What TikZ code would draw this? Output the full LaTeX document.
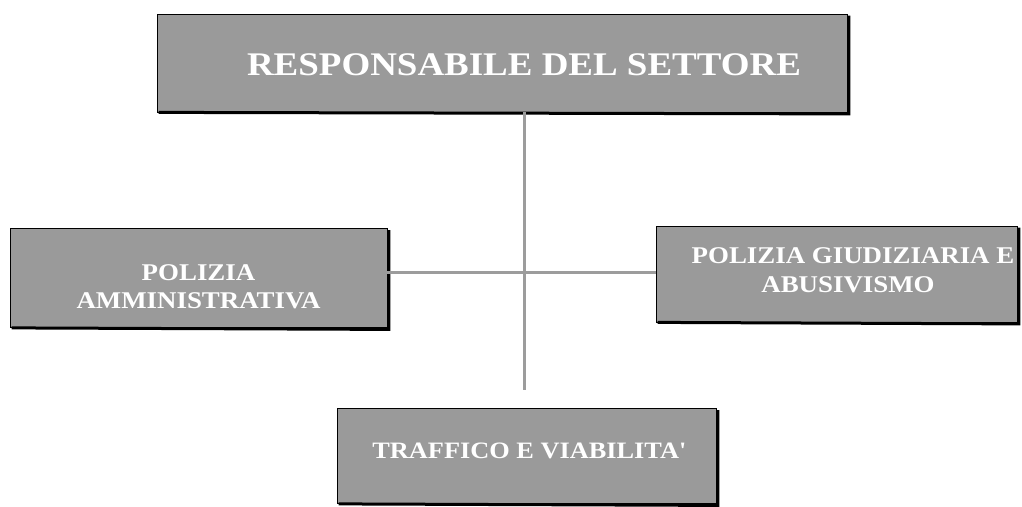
\documentclass[tikz,border=0pt]{standalone}
\usepackage{fontspec}
\setmainfont{Liberation Serif}[FakeStretch=1.12]
\definecolor{boxgray}{HTML}{9A9A9A}
\definecolor{linegray}{HTML}{9C9C9C}
\newcommand{\txtline}[2]{\raisebox{#1}[0pt][0pt]{#2}}
\tikzset{
  orgbox/.style={draw=black, line width=0.8pt, fill=boxgray, inner sep=0pt, align=center,
    text=white, font=\bfseries},
  shadowline/.style={draw=black, line width=3pt},
  conn/.style={draw=linegray, line width=3pt}
}
\begin{document}
\begin{tikzpicture}[x=1pt,y=-1pt]
\useasboundingbox (0,0) rectangle (1022,506);
% boxes
\node[orgbox, minimum width=690pt, minimum height=98pt, font=\bfseries\fontsize{33}{36}\selectfont] (top) at (502,63) {\hspace*{44pt}\txtline{-12pt}{RESPONSABILE DEL SETTORE}};
\node[orgbox, minimum width=377pt, minimum height=99pt, font=\bfseries\fontsize{24}{28}\selectfont] (left) at (198.5,278) {\txtline{-16pt}{POLIZIA}\\\txtline{-16pt}{AMMINISTRATIVA}};
\node[orgbox, minimum width=361pt, minimum height=96pt, font=\bfseries\fontsize{24}{29}\selectfont] (right) at (836.5,274) {\hspace*{33pt}\txtline{-3.5pt}{POLIZIA GIUDIZIARIA E}\\\hspace*{23pt}\txtline{-3.5pt}{ABUSIVISMO}};
\node[orgbox, minimum width=379pt, minimum height=95pt, font=\bfseries\fontsize{23.5}{26}\selectfont] (bottom) at (526.5,456) {\hspace*{5pt}\txtline{-2pt}{TRAFFICO E VIABILITA\textquotesingle}};
% shadows
\foreach \n in {top,left,right,bottom}{
  \draw[shadowline] ([xshift=2pt]\n.south west) -- ([xshift=1.5pt,yshift=-1.5pt]\n.south east) -- ([xshift=1.5pt,yshift=-2pt]\n.north east);
}
% connectors
\coordinate (vend) at (524,390);
\coordinate (hy) at (524,272);
\draw[conn] (top.south -| vend) -- (vend);
\draw[conn] (left.east |- hy) -- (right.west |- hy);
\end{tikzpicture}
\end{document}
